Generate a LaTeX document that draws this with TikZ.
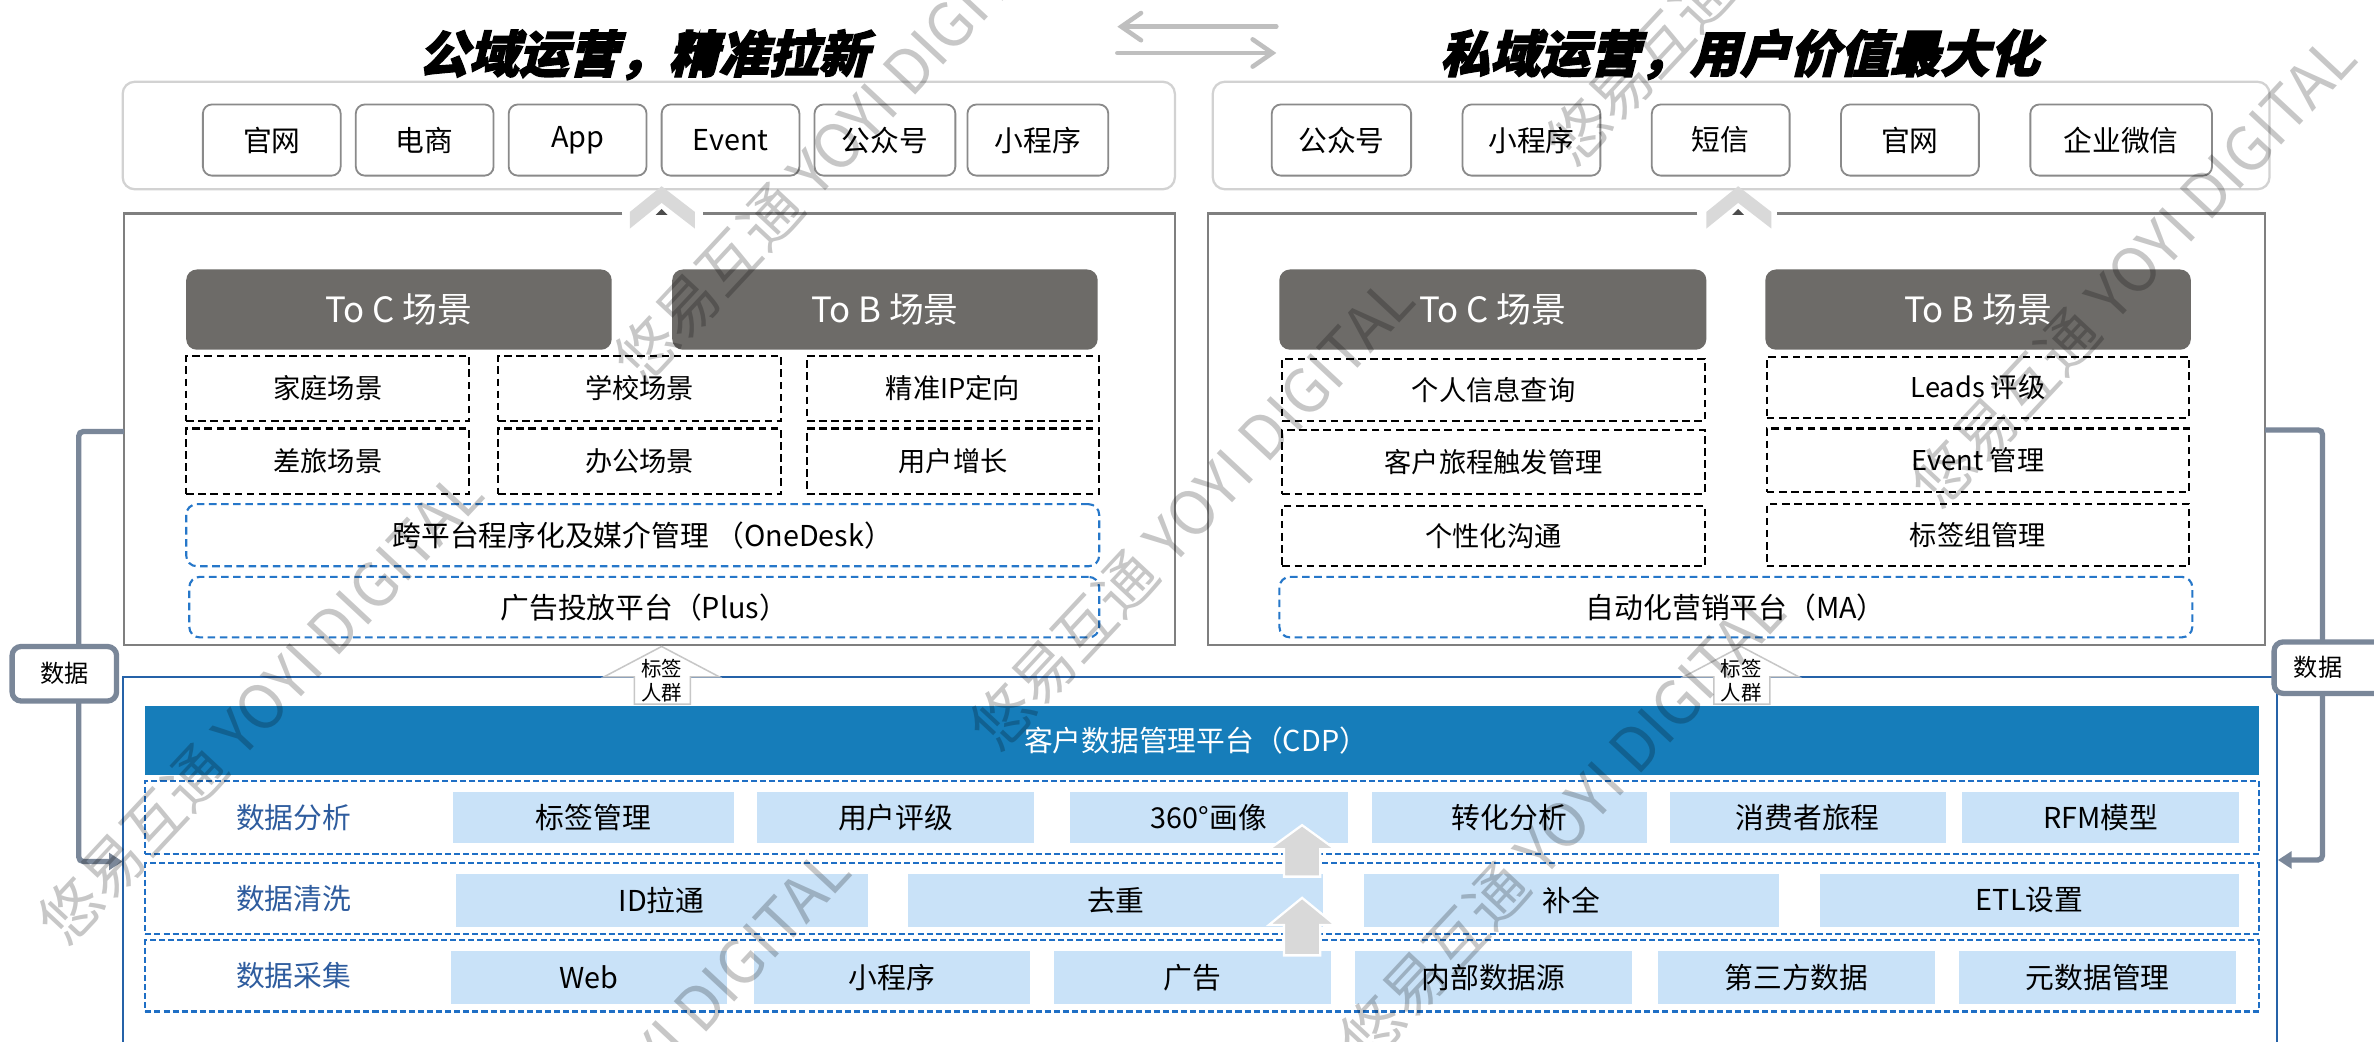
\documentclass[tikz,border=0pt]{standalone}
\usepackage{fontspec}
\setmainfont{Noto Sans CJK SC}
\newfontfamily\titlefont{Noto Sans CJK SC}[FakeSlant=0.25,FakeBold=2.5]
\usetikzlibrary{arrows.meta}
\definecolor{hdrgray}{HTML}{6D6B68}
\definecolor{panelgray}{HTML}{7F7F7F}
\definecolor{outergray}{HTML}{D2D2D2}
\definecolor{btngray}{HTML}{8A8A8A}
\definecolor{dblue}{HTML}{2677C9}
\definecolor{rowblue}{HTML}{1F6FC5}
\definecolor{panelblue}{HTML}{2562A8}
\definecolor{cdpblue}{HTML}{167DBA}
\definecolor{lightblue}{HTML}{C9E2F8}
\definecolor{labelblue}{HTML}{2E5C9E}
\definecolor{slate}{HTML}{7A8799}
\definecolor{chev}{HTML}{D9D9D9}
\definecolor{arrgray}{HTML}{BFBFBF}
\newcommand{\mybox}[7]{%
 \pgfmathsetmacro{\bxw}{#5-#3}\pgfmathsetmacro{\bxh}{#6-#4}%
 \pgfmathsetmacro{\bxx}{(#3+#5)/2}\pgfmathsetmacro{\bxy}{(#4+#6)/2}%
 \node[inner sep=0pt,outer sep=0pt,#1,minimum width=\bxw pt,minimum height=\bxh pt] (#2) at (\bxx,\bxy) {#7};}
\tikzset{
 btn/.style={draw=btngray,line width=1.2pt,rounded corners=6pt,fill=white,font=\fontsize{19}{22}\selectfont},
 outerbox/.style={draw=outergray,line width=1.5pt,rounded corners=8pt},
 hdr/.style={fill=hdrgray,rounded corners=7pt,text=white,font=\fontsize{23}{26}\selectfont},
 dbox/.style={draw=black,dash pattern=on 5pt off 3pt,line width=1.4pt,font=\fontsize{18}{21}\selectfont},
 bdbox/.style={draw=dblue,dash pattern=on 5pt off 3pt,line width=1.4pt,rounded corners=7pt,font=\fontsize{19}{22}\selectfont},
 rowbox/.style={draw=rowblue,dash pattern=on 4pt off 2pt,line width=1.5pt},
 lbox/.style={fill=lightblue,font=\fontsize{19}{22}\selectfont},
 rowlabel/.style={text=labelblue,font=\fontsize{19}{22}\selectfont},
 databox/.style={draw=slate,line width=3.5pt,rounded corners=6pt,fill=white,font=\fontsize{16}{19}\selectfont},
 dataline/.style={draw=slate,line width=3.5pt,rounded corners=3pt,-{Triangle[length=9pt,width=11pt]}},
 tagarrow/.style={draw=black!22,fill=white,line width=1pt},
 tagtext/.style={font=\fontsize{13.5}{15}\selectfont,inner sep=0pt},
 uparrow/.style={fill=chev,draw=white,line width=1.5pt},
 wm/.style={text=black,opacity=0.22,font=\fontsize{40}{44}\selectfont,rotate=47,anchor=west,inner sep=0pt},
 ttl/.style={font=\titlefont\bfseries\fontsize{33}{38}\selectfont}
}
\begin{document}
\begin{tikzpicture}[x=1pt,y=-1pt]
\useasboundingbox[fill=white] (0,0) rectangle (1568,687.6);
% titles
\node[ttl] (t1) at (425,36) {公域运营，精准拉新};
\node[ttl] (t2) at (1149,36) {私域运营，用户价值最大化};
\coordinate (a1s) at (843,17.6); \coordinate (a1e) at (738,17.6);
\coordinate (a2s) at (738,35); \coordinate (a2e) at (843,35);
\draw[arrgray,line width=3pt,line cap=round,-{Straight Barb[length=13pt,width=18pt,line cap=round]}] (a1s) -- (a1e);
\draw[arrgray,line width=3pt,line cap=round,-{Straight Barb[length=13pt,width=18pt,line cap=round]}] (a2s) -- (a2e);
% top channel boxes
\mybox{outerbox}{ob1}{81}{54}{776}{125}{}
\mybox{outerbox}{ob2}{801}{54}{1499}{125}{}
\mybox{btn}{b1}{134}{69}{225}{116}{官网}
\mybox{btn}{b2}{235}{69}{326}{116}{电商}
\mybox{btn}{b3}{336}{69}{427}{116}{App}
\mybox{btn}{b4}{437}{69}{528}{116}{Event}
\mybox{btn}{b5}{538}{69}{631}{116}{公众号}
\mybox{btn}{b6}{639}{69}{732}{116}{小程序}
\mybox{btn}{c1}{840}{69}{932}{116}{公众号}
\mybox{btn}{c2}{966}{69}{1057}{116}{小程序}
\mybox{btn}{c3}{1091}{69}{1182}{116}{短信}
\mybox{btn}{c4}{1216}{69}{1307}{116}{官网}
\mybox{btn}{c5}{1341}{69}{1461}{116}{企业微信}
% chevrons
\fill[chev] (416,140) -- (437,123) -- (459,140) -- (459,151) -- (437,134) -- (416,151) -- cycle;
\fill[chev] (1127,140) -- (1148,123) -- (1170,140) -- (1170,151) -- (1148,134) -- (1127,151) -- cycle;
\fill[black!70] (433,142) -- (437,138) -- (441,142) -- cycle;
\fill[black!70] (1144,142) -- (1148,138) -- (1152,142) -- cycle;
% panels
\mybox{}{lpanel}{82}{141}{776}{426}{}
\mybox{}{rpanel}{798}{141}{1496}{426}{}
\draw[panelgray,line width=1.5pt] (411,141) -- (82,141) -- (82,426) -- (776,426) -- (776,141) -- (464,141);
\draw[panelgray,line width=1.5pt] (1121,141) -- (798,141) -- (798,426) -- (1496,426) -- (1496,141) -- (1174,141);
% left panel
\mybox{hdr}{lh1}{123}{178}{404}{231}{To C 场景}
\mybox{hdr}{lh2}{444}{178}{725}{231}{To B 场景}
\mybox{dbox}{l11}{123}{235}{310}{278}{家庭场景}
\mybox{dbox}{l12}{329}{235}{516}{278}{学校场景}
\mybox{dbox}{l13}{533}{235}{726}{278}{精准IP定向}
\mybox{dbox}{l21}{123}{283}{310}{326}{差旅场景}
\mybox{dbox}{l22}{329}{283}{516}{326}{办公场景}
\mybox{dbox}{l23}{533}{283}{726}{326}{用户增长}
\mybox{bdbox}{lod}{123}{333}{726}{374}{跨平台程序化及媒介管理 （OneDesk）}
\mybox{bdbox}{lpl}{125}{381}{726}{421}{广告投放平台（Plus）}
% right panel
\mybox{hdr}{rh1}{845}{178}{1127}{231}{To C 场景}
\mybox{hdr}{rh2}{1166}{178}{1447}{231}{To B 场景}
\mybox{dbox}{r11}{847}{237}{1126}{278}{个人信息查询}
\mybox{dbox}{r21}{847}{284}{1126}{326}{客户旅程触发管理}
\mybox{dbox}{r31}{847}{334}{1126}{374}{个性化沟通}
\mybox{dbox}{r12}{1167}{236}{1446}{276}{Leads 评级}
\mybox{dbox}{r22}{1167}{283}{1446}{325}{Event 管理}
\mybox{dbox}{r32}{1167}{333}{1446}{374}{标签组管理}
\mybox{bdbox}{rma}{845}{381}{1448}{421}{自动化营销平台（MA）}
% bottom panel
\draw[panelblue,line width=1.4pt] (81,700) -- (81,447) -- (1504,447) -- (1504,700);
\mybox{fill=cdpblue,text=white,font=\fontsize{19}{22}\selectfont}{cdp}{96}{466}{1492}{512}{\hspace*{-8pt}客户数据管理平台（CDP）}
\mybox{rowbox}{row1}{96}{516}{1492}{564}{}
\mybox{rowbox}{row2}{96}{570}{1492}{617}{}
\mybox{rowbox}{row3}{96}{621}{1492}{668}{}
\node[rowlabel] (lab1) at (194,540) {数据分析};
\node[rowlabel] (lab2) at (194,593.5) {数据清洗};
\node[rowlabel] (lab3) at (194,644.5) {数据采集};
\mybox{lbox}{a1}{299}{523}{485}{557}{标签管理}
\mybox{lbox}{a2}{500}{523}{683}{557}{用户评级}
\mybox{lbox}{a3}{707}{523}{890}{557}{360°画像}
\mybox{lbox}{a4}{906}{523}{1088}{557}{转化分析}
\mybox{lbox}{a5}{1103}{523}{1285}{557}{消费者旅程}
\mybox{lbox}{a6}{1296}{523}{1479}{557}{RFM模型}
\mybox{lbox}{q1}{301}{577}{573}{612}{ID拉通}
\mybox{lbox}{q2}{600}{577}{874}{612}{去重}
\mybox{lbox}{q3}{901}{577}{1175}{612}{补全}
\mybox{lbox}{q4}{1202}{577}{1479}{612}{ETL设置}
\mybox{lbox}{s1}{298}{628}{480}{663}{Web}
\mybox{lbox}{s2}{498}{628}{680}{663}{小程序}
\mybox{lbox}{s3}{696}{628}{879}{663}{广告}
\mybox{lbox}{s4}{895}{628}{1078}{663}{内部数据源}
\mybox{lbox}{s5}{1095}{628}{1278}{663}{第三方数据}
\mybox{lbox}{s6}{1294}{628}{1477}{663}{元数据管理}
% gray up arrows
\path[uparrow] (838,561) -- (860,545) -- (882,561) -- (872,561) -- (872,579) -- (848,579) -- (848,561) -- cycle;
\path[uparrow] (838,611) -- (860,593) -- (882,611) -- (872,611) -- (872,631) -- (848,631) -- (848,611) -- cycle;
% tag arrows
\path[tagarrow] (399,447) -- (437,427) -- (475,447) -- (456,447) -- (456,465) -- (419,465) -- (419,447) -- cycle;
\path[tagarrow] (1112,447) -- (1150,427) -- (1188,447) -- (1169,447) -- (1169,465) -- (1132,465) -- (1132,447) -- cycle;
\node[tagtext] (tg1) at (437,441.5) {标签};
\node[tagtext] (tp1) at (437,457.5) {人群};
\node[tagtext] (tg2) at (1150,441.5) {标签};
\node[tagtext] (tp2) at (1150,457.5) {人群};
% data connectors
\coordinate (dl0) at (82,285); \coordinate (dl1) at (52,569); \coordinate (dl2) at (81,569);
\coordinate (dr0) at (1496,284); \coordinate (dr1) at (1534,568); \coordinate (dr2) at (1504.5,568);
\draw[dataline] (dl0) -| (dl1) -- (dl2);
\draw[dataline] (dr0) -| (dr1) -- (dr2);
\mybox{databox}{dL}{8}{427}{77}{463}{数据}
\mybox{databox}{dR}{1502}{424}{1590}{458}{\hspace*{-30pt}数据}
% watermark
\node[wm] (w1) at (33,616) {悠易互通 YOYI DIGITAL};
\node[wm] (w2) at (413,246) {悠易互通 YOYI DIGITAL};
\node[wm] (w3) at (648,488) {悠易互通 YOYI DIGITAL};
\node[wm] (w4) at (1029,102) {悠易互通 YOYI DIGITAL};
\node[wm] (w5) at (1270,328) {悠易互通 YOYI DIGITAL};
\node[wm] (w6) at (893,694) {悠易互通 YOYI DIGITAL};
\node[wm] (w7) at (275,865) {悠易互通 YOYI DIGITAL};
\end{tikzpicture}
\end{document}
